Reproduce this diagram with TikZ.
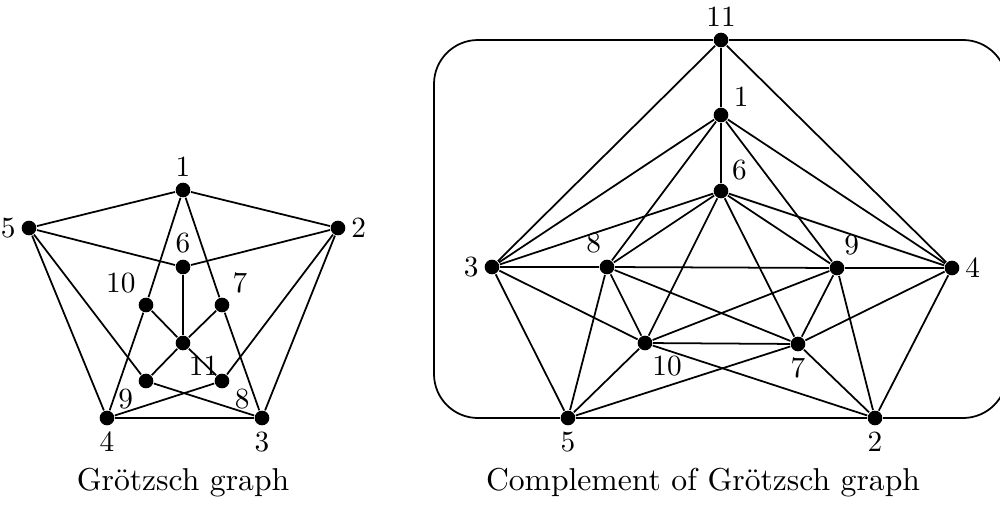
\documentclass[tikz,border=0pt]{standalone}
\begin{document}
\begin{tikzpicture}[x=0.012cm,y=-0.012cm,semithick,
  vtx/.style={circle,fill,inner sep=0pt,minimum size=5pt},
  every label/.style={inner sep=1.5pt},
  caption/.style={font=\fontsize{10.8pt}{13pt}\selectfont}]
\useasboundingbox (0,0) rectangle (1000,506);
% Groetzsch graph
\foreach \n/\x/\y/\p in {1/183/190/90, 2/338/228/0, 3/262/418/-90, 4/107/418/-90,
  5/29/228/180, 6/183/267/90, 7/222/305/50, 8/222/381/-20, 9/146/381/200,
  10/146/305/130, 11/183/343/-85}
  \node[vtx,label={\p:\n}] (g\n) at (\x,\y) {};
\foreach \a/\b in {1/2,2/3,3/4,4/5,5/1,6/5,6/2,7/1,7/3,8/2,8/4,9/3,9/5,
  10/4,10/1,11/6,11/7,11/8,11/9,11/10}
  \draw (g\a) -- (g\b);
\node[caption] (gcap) at (183,483) {Grötzsch graph};
% its complement
\foreach \n/\x/\y/\p in {1/721/115/20, 2/875/418/-90, 3/492/267/180, 4/952/268/0,
  5/568/418/-90, 6/721/191/45, 7/798/344/-90, 8/607/267/95, 9/837/268/75,
  10/645/343/-75, 11/721/40/90}
  \node[vtx,label={\p:\n}] (c\n) at (\x,\y) {};
\foreach \a/\b in {1/3,1/4,1/6,1/8,1/9,1/11,2/4,2/5,2/7,2/9,2/10,
  3/5,3/6,3/8,3/10,3/11,4/6,4/7,4/9,4/11,5/7,5/8,5/10,
  6/7,6/8,6/9,6/10,7/8,7/9,7/10,8/9,8/10,9/10}
  \draw (c\a) -- (c\b);
% 11-5 and 11-2 round the outside
\draw[rounded corners=15pt] (c11) -- (434,40) -- (434,418) -- (c5);
\draw[rounded corners=15pt] (c11) -- (1007,40) -- (1007,418) -- (c2);
\node[caption] (ccap) at (703,483) {Complement of Grötzsch graph};
\end{tikzpicture}
\end{document}
